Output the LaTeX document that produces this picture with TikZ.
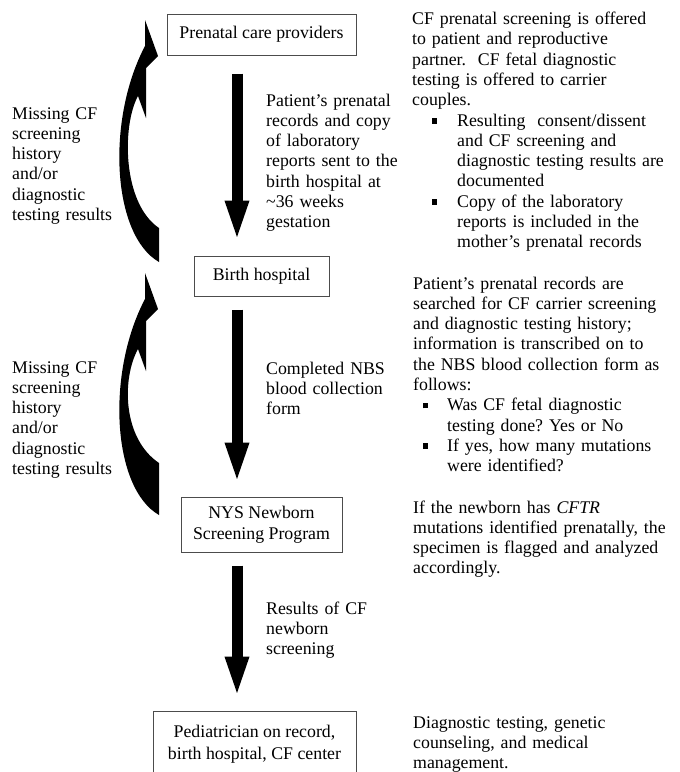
\documentclass[tikz,border=0pt]{standalone}
\usepackage{fontspec}
\setmainfont{Liberation Serif}
\usetikzlibrary{arrows.meta}
\frenchspacing

\newcommand{\notefont}{\fontsize{17.8}{20.3}\selectfont}
\newcommand{\boxfont}{\fontsize{17.8}{21.5}\selectfont}
\newcommand{\sqbul}[2]{\hspace*{#1}\makebox[#2][l]{\rule[2.5pt]{5pt}{5.5pt}}}

\tikzset{
  box/.style={draw=black!70, line width=1pt, align=center, inner sep=0pt, font=\boxfont},
  note/.style={anchor=base west, align=left, inner sep=0pt, font=\notefont},
  bigarrow/.style={line width=11pt, -{Triangle[length=42pt,width=21pt]}},
}

\begin{document}
\begin{tikzpicture}[x=1pt,y=-1pt]
  \clip (0,0) rectangle (680,772);
  % Boxes
  \node[box, minimum width=189pt, minimum height=41pt] (prenatal) at (261.5,34.5) {Prenatal care providers};
  \node[box, minimum width=135pt, minimum height=40pt] (birth) at (261.5,276) {Birth hospital};
  \node[box, minimum width=161pt, minimum height=55pt] (nys) at (261.5,524.5) {NYS Newborn\\ Screening Program};
  \node[box, minimum width=203pt, minimum height=66pt] (ped) at (254.5,744) {Pediatrician on record,\\ birth hospital, CF center};
  % Down arrows
  \coordinate (ax) at (237,0);
  \draw[bigarrow, shorten <=18pt, shorten >=13pt] (prenatal.south -| ax) -- (birth.north -| ax);
  \draw[bigarrow, shorten <=13pt, shorten >=12pt] (birth.south -| ax) -- (nys.north -| ax);
  \draw[bigarrow, shorten <=13pt, shorten >=12pt] (nys.south -| ax) -- (ped.north -| ax);
  \node[note, text width=140pt] (sent) at (266,106) {Patient’s prenatal\\ records and copy\\ of laboratory\\ reports sent to the\\ birth hospital at\\ \textasciitilde36 weeks\\ gestation};
  \node[note, text width=140pt] (form) at (266,374) {Completed NBS\\ blood collection\\ form};
  \node[note, text width=140pt] (results) at (266,614) {Results of CF\\ newborn\\ screening};
  % Curved arrows back up
  \foreach \dy/\ct in {0/228,253/210}{
    \fill[shift={(0,\dy)}] (145,20) -- (158,56) -- (146,68) -- (146,118) -- (138,96)
      .. controls (122,125) and (122,\ct-25) .. (159,\ct) -- (159,262)
      .. controls (112,235) and (106,120) .. (145,46) -- cycle;
  }
  \node[note, text width=110pt] (miss1) at (12,119) {Missing CF\\ screening\\ history\\ and/or\\ diagnostic\\ testing results};
  \node[note, text width=110pt] (miss2) at (12,373) {Missing CF\\ screening\\ history\\ and/or\\ diagnostic\\ testing results};
  % Notes on the right
  \node[note, text width=268pt] (offer) at (412,24.5) {CF prenatal screening is offered\\ to patient and reproductive\\ partner.\ \ CF fetal diagnostic\\ testing is offered to carrier\\ couples.\\
    \sqbul{20pt}{25pt}Resulting\ \ consent/dissent\\ \hspace*{45pt}and CF screening and\\ \hspace*{45pt}diagnostic testing results are\\ \hspace*{45pt}documented\\
    \sqbul{20pt}{25pt}Copy of the laboratory\\ \hspace*{45pt}reports is included in the\\ \hspace*{45pt}mother’s prenatal records};
  \node[note, text width=268pt] (search) at (413,289) {Patient’s prenatal records are\\ searched for CF carrier screening\\ and diagnostic testing history;\\ information is transcribed on to\\ the NBS blood collection form as\\ follows:\\
    \sqbul{10pt}{24pt}Was CF fetal diagnostic\\ \hspace*{34pt}testing done? Yes or No\\
    \sqbul{10pt}{24pt}If yes, how many mutations\\ \hspace*{34pt}were identified?};
  \node[note, text width=268pt] (flag) at (413,513) {If the newborn has \textit{CFTR}\\ mutations identified prenatally, the\\ specimen is flagged and analyzed\\ accordingly.};
  \node[note, text width=268pt] (manage) at (413,728) {Diagnostic testing, genetic\\ counseling, and medical\\ management.};
\end{tikzpicture}
\end{document}
